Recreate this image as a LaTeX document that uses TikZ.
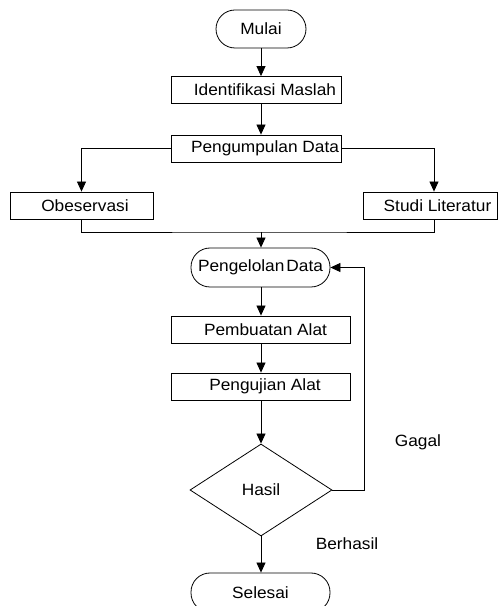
\documentclass[tikz,border=0pt]{standalone}
\usepackage{fontspec}
\setmainfont{Liberation Sans}[FakeStretch=1.06]
\usepackage{tikz}
\usetikzlibrary{arrows.meta}
\usetikzlibrary{calc}
\usetikzlibrary{positioning}
\usetikzlibrary{shapes.geometric}

\begin{document}
\begin{tikzpicture}[x=1pt, y=1pt, line width=0.8pt,
    font=\fontsize{16.3}{18}\selectfont,
    proses/.style={draw, rectangle, inner sep=0pt, minimum height=27pt},
    geser/.style={execute at begin node={\hspace*{#1}}},
    terminal/.style={draw, rectangle, rounded corners=19pt, inner sep=0pt, minimum width=139pt, minimum height=39pt},
    keputusan/.style={draw, diamond, inner sep=0pt, minimum width=142pt, minimum height=92pt},
    panah/.style={-{Triangle[length=10pt, width=9pt]}}]
            \useasboundingbox (0,0) rectangle (498,606);
            \clip (0,0) rectangle (498,606);
            \node[terminal, minimum width=90pt, minimum height=38pt] (mulai) at (261,577) {Mulai};
            \node[proses, geser=18pt, minimum width=170pt] (identifikasi) at (256,516) {Identifikasi Maslah};
            \node[proses, geser=18pt, minimum width=170pt] (pengumpulan) at (256,457.5) {Pengumpulan Data};
            \node[proses, geser=7pt, minimum width=143pt] (observasi) at (81.5,400.5) {Obeservasi};
            \node[proses, geser=15pt, minimum width=134pt] (studi) at (430,400.5) {Studi Literatur};
            \node[terminal] (pengelolan) at (260.5,338.5) {Pengelolan\hspace{2pt}Data};
            \node[proses, geser=10pt, minimum width=179pt] (pembuatan) at (260.5,276.5) {Pembuatan Alat};
            \node[proses, geser=9pt, minimum width=179pt] (pengujian) at (260.5,219.5) {Pengujian Alat};
            \node[keputusan] (hasil) at (261,116) {Hasil};
            \node[terminal] (selesai) at (260.5,13.5) {Selesai};
            \node (gagal) at (418,164) {Gagal};
            \node (berhasil) at (347,62) {Berhasil};
            \coordinate (gabung) at (261,374);
            \coordinate (balik) at (364,0);

            \draw[panah] (mulai) -- (mulai |- identifikasi.north);
            \draw[panah] (mulai |- identifikasi.south) -- (mulai |- pengumpulan.north);
            \draw[panah] (pengumpulan.west) -| (observasi.north);
            \draw[panah] (pengumpulan.east) -| (studi.north -| 434,0);
            \draw (observasi.south) |- (gabung) -| (studi.south -| 434,0);
            \draw[panah] (gabung) -- (gabung |- pengelolan.north);
            \draw[panah] (pengelolan.south -| hasil) -- (hasil |- pembuatan.north);
            \draw[panah] (hasil |- pembuatan.south) -- (hasil |- pengujian.north);
            \draw[panah] (hasil |- pengujian.south) -- (hasil.north);
            \draw[panah] (hasil.east) -| (balik |- pengelolan) -- (pengelolan.east);
            \draw[panah] (hasil.south) -- (selesai.north -| hasil);
        \end{tikzpicture}
\end{document}
